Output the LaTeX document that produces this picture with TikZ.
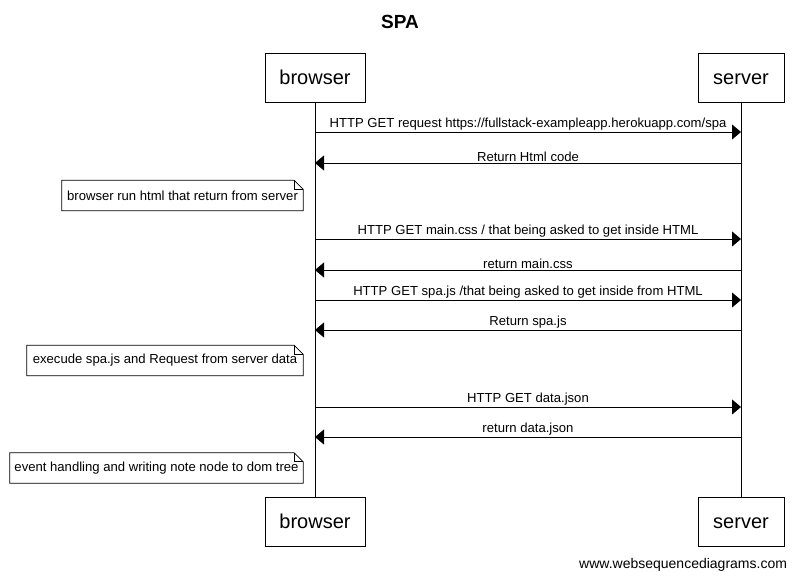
\documentclass[tikz,border=0pt]{standalone}
\usepackage{fontspec}
\setmainfont{Liberation Sans}
\usetikzlibrary{arrows.meta}
\tikzset{
  participant/.style={draw, line width=1pt, fill=white, minimum height=49pt, inner sep=0pt, text height=16.5pt, text depth=2pt, font=\fontsize{20}{24}\selectfont},
  msg/.style={line width=0.8pt, -{Triangle[length=9pt,width=15pt]}},
  msglabel/.style={above, inner sep=1pt, font=\fontsize{13.1}{15}\selectfont},
  notebox/.style={minimum height=30pt, inner sep=0pt},
  notetext/.style={font=\fontsize{13.1}{15}\selectfont},
  noteline/.style={line width=0.8pt},
  lifeline/.style={line width=0.8pt},
}
\newcommand{\notefold}[1]{%
  \draw[noteline, fill=white] (#1.south west) -- (#1.south east) -- ([yshift=-9pt]#1.north east) -- ([xshift=-9pt]#1.north east) -- (#1.north west) -- cycle;
  \draw[noteline] ([xshift=-9pt]#1.north east) -- ([xshift=-9pt,yshift=-9pt]#1.north east) -- ([yshift=-9pt]#1.north east);
}
\begin{document}
\begin{tikzpicture}[x=1pt,y=-1pt]
\useasboundingbox (0,0) rectangle (799,581);
\node[font=\bfseries\fontsize{19}{22}\selectfont] (title) at (400,22) {SPA};

% lifelines
\coordinate (bt) at (315,102);
\coordinate (bb) at (315,497);
\coordinate (st) at (741,102);
\coordinate (sb) at (741,497);
\draw[lifeline] (bt) -- (bb);
\draw[lifeline] (st) -- (sb);

\node[participant, minimum width=100pt] (btop) at (315,77.5) {browser};
\node[participant, minimum width=86pt] (stop) at (741,77.5) {server};
\node[participant, minimum width=100pt] (bbot) at (315,521.5) {browser};
\node[participant, minimum width=86pt] (sbot) at (741,521.5) {server};

% message endpoints
\foreach \n/\y in {1/132,2/163,3/239,4/270,5/300,6/330,7/407,8/437}{
  \coordinate (b\n) at (315,\y);
  \coordinate (s\n) at (741,\y);
}

\draw[msg] (b1) -- (s1) node[msglabel, midway] (l1) {HTTP GET request https://fullstack-exampleapp.herokuapp.com/spa};
\draw[msg] (s2) -- (b2) node[msglabel, midway] (l2) {Return Html code};
\draw[msg] (b3) -- (s3) node[msglabel, midway] (l3) {HTTP GET main.css / that being asked to get inside HTML};
\draw[msg] (s4) -- (b4) node[msglabel, midway] (l4) {return main.css};
\draw[msg] (b5) -- (s5) node[msglabel, midway] (l5) {HTTP GET spa.js /that being asked to get inside from HTML};
\draw[msg] (s6) -- (b6) node[msglabel, midway] (l6) {Return spa.js};
\draw[msg] (b7) -- (s7) node[msglabel, midway] (l7) {HTTP GET data.json};
\draw[msg] (s8) -- (b8) node[msglabel, midway] (l8) {return data.json};

% notes
\node[notebox, minimum width=241pt] (n1) at (182.5,195.5) {};
\notefold{n1}
\node[notetext] (t1) at (n1.center) {browser run html that return from server};

\node[notebox, minimum width=276pt] (n2) at (165,360.5) {};
\notefold{n2}
\node[notetext] (t2) at (n2.center) {execude spa.js and Request from server data};

\node[notebox, minimum width=293pt] (n3) at (156.5,468) {};
\notefold{n3}
\node[notetext] (t3) at (n3.center) {event handling and writing note node to dom tree};

\node[anchor=east, font=\fontsize{14}{16}\selectfont] (footer) at (790.5,565) {www.websequencediagrams.com};
\end{tikzpicture}
\end{document}
